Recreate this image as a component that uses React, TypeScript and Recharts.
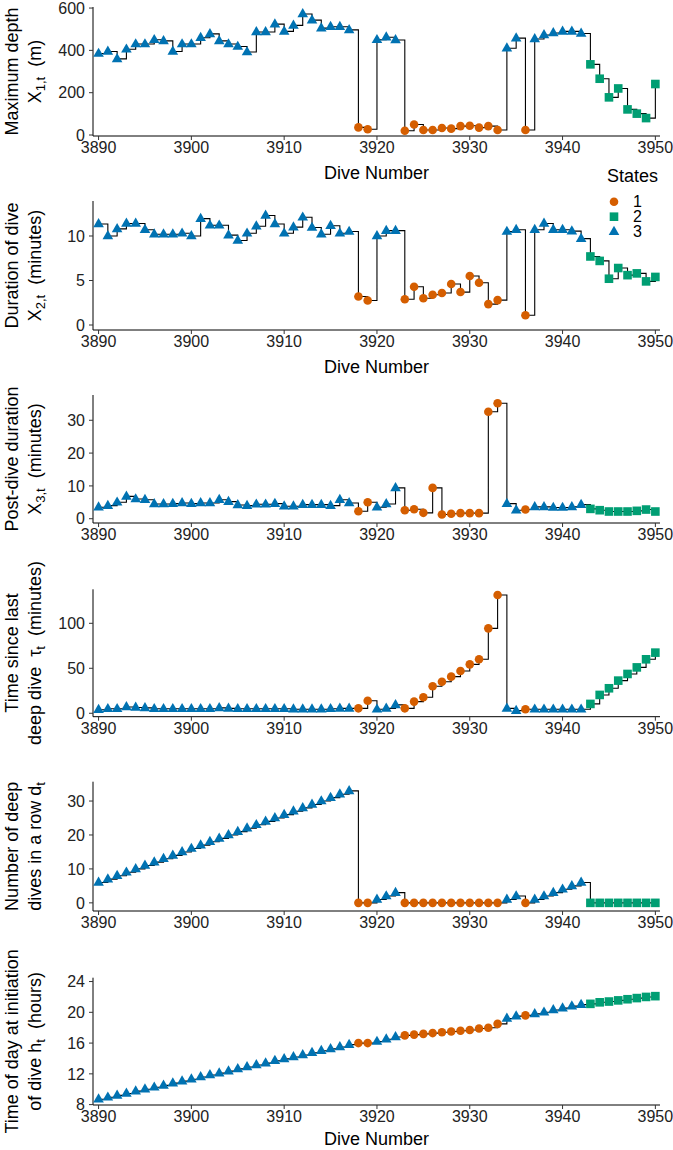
import React from 'react';
import { ComposedChart, Line, XAxis, YAxis, Legend } from 'recharts';

const dives = [
  3890, 3891, 3892, 3893, 3894, 3895, 3896, 3897, 3898, 3899,
  3900, 3901, 3902, 3903, 3904, 3905, 3906, 3907, 3908, 3909,
  3910, 3911, 3912, 3913, 3914, 3915, 3916, 3917, 3918, 3919,
  3920, 3921, 3922, 3923, 3924, 3925, 3926, 3927, 3928, 3929,
  3930, 3931, 3932, 3933, 3934, 3935, 3936, 3937, 3938, 3939,
  3940, 3941, 3942, 3943, 3944, 3945, 3946, 3947, 3948, 3949, 3950,
];

const states = [
  3, 3, 3, 3, 3, 3, 3, 3, 3, 3,
  3, 3, 3, 3, 3, 3, 3, 3, 3, 3,
  3, 3, 3, 3, 3, 3, 3, 3, 1, 1,
  3, 3, 3, 1, 1, 1, 1, 1, 1, 1,
  1, 1, 1, 1, 3, 3, 1, 3, 3, 3,
  3, 3, 3, 2, 2, 2, 2, 2, 2, 2, 2,
];

const maxDepth = [
  385, 395, 360, 405, 430, 430, 450, 445, 395, 430,
  430, 460, 478, 445, 430, 418, 392, 487, 487, 524,
  490, 518, 572, 543, 505, 512, 512, 497, 36, 27,
  450, 462, 449, 20, 50, 24, 24, 33, 30, 42,
  44, 35, 42, 24, 410, 458, 24, 454, 473, 482,
  490, 490, 480, 334, 266, 178, 220, 121, 101, 80, 241,
];

const duration = [
  11.35, 10.0, 10.8, 11.4, 11.4, 10.7, 10.2, 10.2, 10.2, 10.3,
  10.0, 11.95, 11.2, 11.2, 10.1, 9.5, 10.3, 11.1, 12.3, 11.35,
  10.3, 11.0, 12.1, 10.95, 10.2, 11.15, 10.3, 10.5, 3.2, 2.75,
  10.0, 10.6, 10.6, 2.9, 4.3, 3.0, 3.4, 3.6, 4.6, 3.7,
  5.5, 4.75, 2.35, 2.8, 10.5, 10.7, 1.1, 10.7, 11.4, 10.7,
  10.7, 10.55, 9.7, 7.7, 7.2, 5.2, 6.4, 5.6, 5.8, 4.9, 5.4,
];

const postDive = [
  3.5, 4.0, 5.0, 6.8, 6.0, 5.8, 4.5, 4.5, 4.6, 4.8,
  4.6, 4.8, 4.8, 5.8, 5.2, 4.2, 4.0, 4.4, 4.4, 4.6,
  3.8, 3.8, 4.3, 4.3, 4.3, 4.0, 5.8, 4.8, 2.3, 5.0,
  3.5, 4.5, 9.4, 2.6, 2.9, 1.8, 9.4, 1.3, 1.5, 1.7,
  1.7, 1.7, 32.6, 35.2, 4.6, 2.6, 2.8, 3.6, 3.6, 3.4,
  3.4, 3.6, 4.3, 3.0, 2.6, 2.2, 2.2, 2.2, 2.4, 2.8, 2.2,
];

const tau = [
  4, 5, 5, 7, 6.5, 6, 5, 5, 5, 5,
  5, 5, 5, 6, 5.5, 5, 5, 5, 5, 5,
  5, 4.5, 4.5, 4.5, 4.5, 5, 5.5, 5.5, 5.5, 14,
  4.4, 5.5, 9.3, 5.5, 13, 17.8, 30, 35, 40.7, 47,
  54.4, 60, 94.4, 131.5, 5.5, 3, 4.4, 4.4, 4.4, 4.4,
  4.4, 4.4, 4.4, 10.4, 20.4, 27.8, 36.3, 43.7, 51, 60, 67.4,
];

const deepInRow = [
  6, 7, 8, 9, 10, 11, 12, 13, 14, 15,
  16, 17, 18, 19, 20, 21, 22, 23, 24, 25,
  26, 27, 28, 29, 30, 31, 32, 33, 0, 0,
  1, 2, 3, 0, 0, 0, 0, 0, 0, 0,
  0, 0, 0, 0, 1, 2, 0, 1, 2, 3,
  4, 5, 6, 0, 0, 0, 0, 0, 0, 0, 0,
];

const timeOfDay = [
  8.7, 8.95, 9.2, 9.45, 9.75, 10.0, 10.25, 10.5, 10.8, 11.05,
  11.3, 11.6, 11.85, 12.1, 12.35, 12.65, 12.9, 13.15, 13.4, 13.7,
  13.95, 14.2, 14.45, 14.75, 15.0, 15.25, 15.5, 15.8, 16.0, 16.0,
  16.2, 16.5, 16.8, 17.0, 17.1, 17.2, 17.3, 17.4, 17.5, 17.6,
  17.7, 17.9, 18.0, 18.5, 19.2, 19.5, 19.6, 19.8, 20.0, 20.3,
  20.55, 20.8, 21.0, 21.1, 21.3, 21.4, 21.55, 21.7, 21.85, 22.0, 22.1,
];

const xTicks = [3890, 3900, 3910, 3920, 3930, 3940, 3950];
const stateLabels = ['1', '2', '3'];

const ORANGE = '#D55E00';
const GREEN = '#009E73';
const BLUE = '#0072B2';
const FONT = '"Liberation Sans", Arial, Helvetica, sans-serif';
const W = 673;

const Marker = (props: any) => {
  const { cx, cy, payload, index } = props;
  if (cx == null || cy == null || !payload) return <g key={`m${index}`} />;
  const s = payload.state;
  if (s === 1) return <circle key={`m${index}`} cx={cx} cy={cy} r={4.3} fill={ORANGE} />;
  if (s === 2)
    return <rect key={`m${index}`} x={cx - 4.3} y={cy - 4.3} width={8.6} height={8.6} fill={GREEN} />;
  return (
    <path
      key={`m${index}`}
      d={`M${cx},${cy - 5.9} L${cx + 5.3},${cy + 3.3} L${cx - 5.3},${cy + 3.3} Z`}
      fill={BLUE}
    />
  );
};

const LegendMarker = ({ s, x, y }: { s: number; x: number; y: number }) => {
  if (s === 1) return <circle cx={x} cy={y} r={4.3} fill={ORANGE} />;
  if (s === 2) return <rect x={x - 4.3} y={y - 4.3} width={8.6} height={8.6} fill={GREEN} />;
  return <path d={`M${x},${y - 5.9} L${x + 5.3},${y + 3.3} L${x - 5.3},${y + 3.3} Z`} fill={BLUE} />;
};

const StatesLegend = () => (
  <svg width={73} height={85} style={{ overflow: 'visible', fontFamily: FONT }}>
    <text x={7} y={21.5} fontSize={18} fill="#000">States</text>
    {stateLabels.map((lab, i) => (
      <g key={lab}>
        <LegendMarker s={i + 1} x={14} y={41.7 + i * 15} />
        <text x={33} y={41.7 + i * 15 + 5.7} fontSize={16} fill="#000">{lab}</text>
      </g>
    ))}
  </svg>
);

type Sub = { main: string; sub: string; tail: string };

type Panel = {
  top: number;
  height: number;
  mTop: number;
  plotBottom: number;
  domain: [number, number];
  ticks: number[];
  values: number[];
  line1: string;
  line2: Sub;
  showTitle: boolean;
  titleOffset: number;
  legend?: boolean;
};

const panels: Panel[] = [
  {
    top: 0, height: 185, mTop: 7, plotBottom: 136, domain: [-4.7, 605], ticks: [0, 200, 400, 600],
    values: maxDepth, line1: 'Maximum depth', line2: { main: 'X', sub: '1,t', tail: '\u00A0 (m)' }, showTitle: true, titleOffset: 43,
  },
  {
    top: 185, height: 195, mTop: 16, plotBottom: 330, domain: [-0.56, 13.93], ticks: [0, 5, 10],
    values: duration, line1: 'Duration of dive', line2: { main: 'X', sub: '2,t', tail: '\u00A0 (minutes)' }, showTitle: true, titleOffset: 43, legend: true,
  },
  {
    top: 380, height: 180, mTop: 15, plotBottom: 523, domain: [-1.3, 37.7], ticks: [0, 10, 20, 30],
    values: postDive, line1: 'Post-dive duration', line2: { main: 'X', sub: '3,t', tail: '\u00A0 (minutes)' }, showTitle: false, titleOffset: 43,
  },
  {
    top: 560, height: 200, mTop: 29.3, plotBottom: 716.7, domain: [-3.8, 137.8], ticks: [0, 50, 100],
    values: tau, line1: 'Time since last', line2: { main: 'deep dive \u00A0\u03C4', sub: 't', tail: '\u00A0 (minutes)' }, showTitle: false, titleOffset: 43,
  },
  {
    top: 760, height: 190, mTop: 21.7, plotBottom: 911, domain: [-2.4, 35.7], ticks: [0, 10, 20, 30],
    values: deepInRow, line1: 'Number of deep', line2: { main: 'dives in a row d', sub: 't', tail: '' }, showTitle: false, titleOffset: 43,
  },
  {
    top: 950, height: 200, mTop: 27.7, plotBottom: 1105, domain: [7.95, 24.5], ticks: [8, 12, 16, 20, 24],
    values: timeOfDay, line1: 'Time of day at initiation', line2: { main: 'of dive h', sub: 't', tail: '\u00A0 (hours)' }, showTitle: true, titleOffset: 40,
  },
];

const PanelChart = ({ p }: { p: Panel }) => {
  const data = dives.map((d, i) => ({ dive: d, v: p.values[i], state: states[i] }));
  const plotTop = p.mTop;
  const plotBot = p.plotBottom - p.top;
  const xH = p.height - plotBot;
  const cy = (plotTop + plotBot) / 2;

  const yTitle = () => (
    <g style={{ fontFamily: FONT }}>
      <text transform={`translate(18,${cy}) rotate(-90)`} textAnchor="middle" fontSize={18} fill="#000">
        {p.line1}
      </text>
      <text transform={`translate(41,${cy}) rotate(-90)`} textAnchor="middle" fontSize={18} fill="#000">
        <tspan>{p.line2.main}</tspan>
        <tspan fontSize={13} dy={4}>{p.line2.sub}</tspan>
        {p.line2.tail ? <tspan dy={-4}>{p.line2.tail}</tspan> : null}
      </text>
    </g>
  );

  const xTitle = () =>
    p.showTitle ? (
      <text x={376.5} y={plotBot + p.titleOffset} textAnchor="middle" fontSize={18} fill="#000" style={{ fontFamily: FONT }}>
        Dive Number
      </text>
    ) : (
      <g />
    );

  return (
    <div style={{ position: 'absolute', left: 0, top: p.top, width: W, height: p.height }}>
      <ComposedChart
        width={W}
        height={p.height}
        data={data}
        margin={{ top: plotTop, right: 13, bottom: 0, left: 0 }}
        style={{ fontFamily: FONT }}
      >
        <XAxis
          dataKey="dive"
          type="number"
          domain={[3889.4, 3950.5]}
          allowDataOverflow
          ticks={xTicks}
          interval={0}
          height={xH}
          tickSize={4}
          tickMargin={2}
          axisLine={{ stroke: '#000', strokeWidth: 1 }}
          tickLine={{ stroke: '#333', strokeWidth: 1 }}
          tick={{ fontSize: 16, fill: '#222', fontFamily: FONT }}
          label={xTitle}
        />
        <YAxis
          type="number"
          domain={p.domain}
          allowDataOverflow
          ticks={p.ticks}
          interval={0}
          width={93}
          tickSize={4}
          tickMargin={4}
          axisLine={{ stroke: '#000', strokeWidth: 1 }}
          tickLine={{ stroke: '#333', strokeWidth: 1 }}
          tick={{ fontSize: 16, fill: '#222', fontFamily: FONT }}
          label={yTitle}
        />
        {p.legend ? (
          <Legend
            layout="horizontal"
            verticalAlign="middle"
            align="center"
            wrapperStyle={{ position: 'absolute', left: 600, top: -25, width: 73, height: 85 }}
            content={() => <StatesLegend />}
          />
        ) : null}
        <Line
          type="stepAfter"
          dataKey="v"
          stroke="#000"
          strokeWidth={1.1}
          dot={Marker}
          activeDot={false}
          isAnimationActive={false}
          legendType="none"
        />
      </ComposedChart>
    </div>
  );
};

export default function App() {
  return (
    <div style={{ position: 'absolute', left: 0, top: 0, width: W, height: 1150, background: '#fff' }}>
      {panels.map((p, i) => (
        <PanelChart key={i} p={p} />
      ))}
    </div>
  );
}
